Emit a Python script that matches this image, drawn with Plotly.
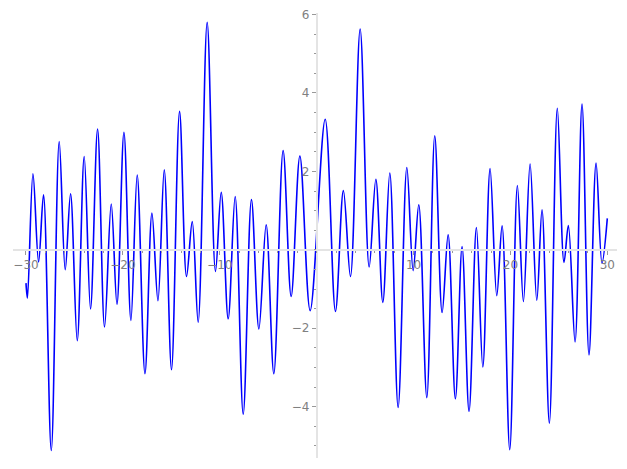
import plotly.graph_objects as go

# Local extrema of the curve
x_vals = [-30.0, -29.85, -29.28, -28.70, -28.19, -27.39, -26.57, -25.95, -25.40, -24.71,
          -23.99, -23.34, -22.61, -21.89, -21.20, -20.61, -19.89, -19.17, -18.52, -17.72,
          -17.00, -16.38, -15.73, -14.98, -14.15, -13.43, -12.84, -12.23, -11.30, -10.44,
          -9.85, -9.13, -8.41, -7.58, -6.73, -5.96, -5.21, -4.42, -3.46, -2.63,
          -1.73, -0.67, 0.88, 1.94, 2.76, 3.49, 4.49, 5.42, 6.11, 6.83,
          7.55, 8.41, 9.31, 9.96, 10.54, 11.37, 12.19, 12.95, 13.57, 14.32,
          15.01, 15.73, 16.49, 17.15, 17.90, 18.59, 19.14, 19.93, 20.72, 21.34,
          22.03, 22.72, 23.26, 24.02, 24.84, 25.53, 25.98, 26.67, 27.39, 28.11,
          28.84, 29.45, 30.0]
y_vals = [-0.85, -1.23, 1.94, -0.31, 1.40, -5.12, 2.76, -0.51, 1.43, -2.32,
          2.38, -1.51, 3.08, -1.97, 1.17, -1.39, 3.00, -1.80, 1.91, -3.16,
          0.94, -1.30, 2.04, -3.06, 3.53, -0.68, 0.72, -1.85, 5.80, -0.55,
          1.47, -1.76, 1.36, -4.19, 1.28, -2.02, 0.64, -3.16, 2.53, -1.19,
          2.39, -1.55, 3.33, -1.57, 1.51, -0.68, 5.63, -0.44, 1.80, -1.34,
          1.96, -4.02, 2.10, -0.53, 1.15, -3.77, 2.91, -1.60, 0.38, -3.80,
          0.08, -4.12, 0.57, -2.99, 2.07, -1.17, 0.61, -5.10, 1.64, -1.32,
          2.19, -1.29, 1.02, -4.42, 3.61, -0.32, 0.62, -2.35, 3.72, -2.68,
          2.21, -0.34, 0.80]

x_ticks = [-30, -20, -10, 10, 20, 30]
x_tick_text = ["\u221230", "\u221220", "\u221210", "10", "20", "30"]
y_ticks = [-4, -2, 2, 4, 6]
y_tick_text = ["\u22124", "\u22122", "2", "4", "6"]

x_range = [-31.34, 31.0]
y_range = [-5.31, 6.04]

fig = go.Figure()
fig.add_trace(go.Scatter(x=x_vals, y=y_vals, mode="lines",
                         line=dict(color="#0000ff", width=1.6, shape="spline", smoothing=1.0),
                         hoverinfo="skip"))

axis_common = dict(
    showgrid=False, zeroline=False, showline=True, linecolor="#e4e4e4", linewidth=1.5,
    ticks="outside", ticklen=4, tickwidth=1, tickcolor="#999999",
    tickfont=dict(family="DejaVu Sans", size=12, color="#808080"),
    anchor="free", automargin=False, ticklabeloverflow="allow",
)

# The page body adds an 8px offset, so the figure is sized to fill the rest of the window
fig.update_layout(
    width=619, height=461,
    margin=dict(l=5, r=10, t=5, b=11),
    paper_bgcolor="white", plot_bgcolor="white",
    showlegend=False,
    xaxis=dict(**axis_common, range=x_range, tickvals=x_ticks, ticktext=x_tick_text,
               position=(0 - y_range[0]) / (y_range[1] - y_range[0]),
               minor=dict(ticks="outside", ticklen=2, dtick=2, tick0=0, tickcolor="#999999")),
    yaxis=dict(**axis_common, range=y_range, tickvals=y_ticks, ticktext=y_tick_text,
               position=(0 - x_range[0]) / (x_range[1] - x_range[0]),
               minor=dict(ticks="outside", ticklen=2, dtick=0.5, tick0=0, tickcolor="#999999")),
)

fig.write_html("out.html")
